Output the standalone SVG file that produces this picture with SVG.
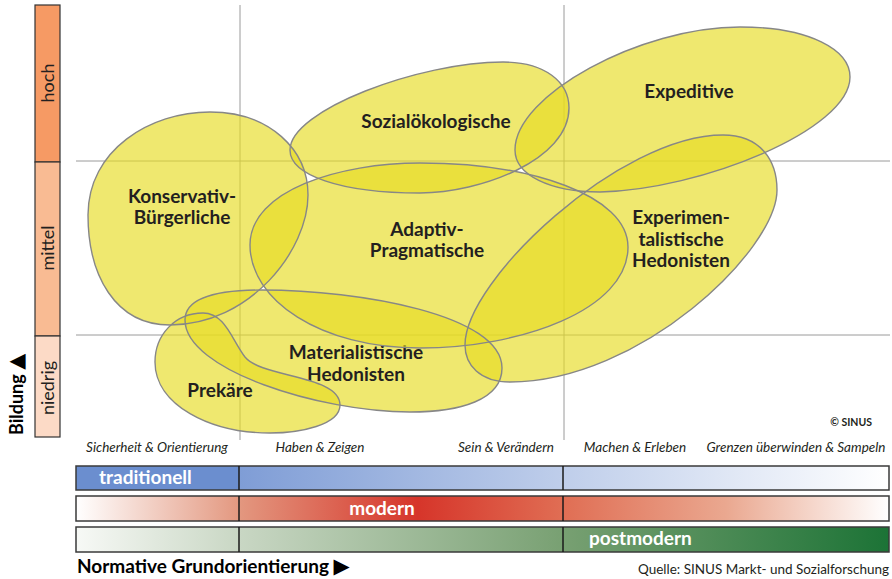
<svg xmlns="http://www.w3.org/2000/svg" xmlns:xlink="http://www.w3.org/1999/xlink" width="892" height="579" viewBox="0 0 892 579">
<style>
.blob{fill:#e6dc22;fill-opacity:0.65;stroke:none}
.outline{fill:none;stroke:#878787;stroke-width:1.4}
.grid{stroke:#9a9a9a;stroke-width:1;fill:none}
.lbl{font-family:Lato,"Liberation Sans",sans-serif;font-weight:bold;font-size:19px;fill:#231f20;text-anchor:middle}
.ax{font-family:Lato,"Liberation Sans",sans-serif;font-style:italic;font-size:13.5px;fill:#231f20;text-anchor:middle}
.lvl{font-family:Lato,"Liberation Sans",sans-serif;font-size:18px;fill:#231f20;text-anchor:middle}
.bar{stroke:#3a3a3a;stroke-width:1.5}
.div{stroke:#1a1a1a;stroke-width:1.5}
.bt{font-family:Lato,"Liberation Sans",sans-serif;font-weight:bold;font-size:19px;fill:#ffffff}
</style>
<defs>
<path id="s-kons" d="M 210,112 C 270,112 308,150 308,195 C 308,250 250,325 170,325 C 115,325 88,275 88,215 C 88,150 150,112 210,112 Z"/>
<path id="s-sozial" d="M 290,150 C 290,110 420,62 503,62 C 545,62 569,82 569,108 C 569,160 480,193 420,193 C 340,193 290,175 290,150 Z"/>
<path id="s-exped" d="M 515,150 C 515,95 640,27 740,27 C 810,27 850,50 850,77 C 850,130 700,190 600,192 C 550,192 515,175 515,150 Z"/>
<path id="s-adapt" d="M 250,245 C 250,190 340,163 420,163 C 530,163 628,195 628,247 C 628,310 520,348 420,348 C 320,348 250,300 250,245 Z"/>
<path id="s-exper" d="M 723,135 C 760,135 777,160 777,190 C 777,250 640,382 510,382 C 480,382 465,365 465,345 C 465,280 620,135 723,135 Z"/>
<path id="s-mat" d="M 185,320 C 185,300 210,290 262,290 C 360,290 502,315 502,368 C 502,400 460,412 410,412 C 320,412 185,370 185,320 Z"/>
<path id="s-prek" d="M 155,362 C 155,335 175,313 203,313 C 225,313 232,340 245,357 C 262,378 340,375 340,405 C 340,425 300,433 270,433 C 210,433 155,405 155,362 Z"/>
<linearGradient id="g-trad" x1="239" y1="0" x2="889" y2="0" gradientUnits="userSpaceOnUse">
<stop offset="0" stop-color="#7f9dd6"/><stop offset="1" stop-color="#ffffff"/>
</linearGradient>
<linearGradient id="g-mod" x1="76" y1="0" x2="889" y2="0" gradientUnits="userSpaceOnUse">
<stop offset="0" stop-color="#ffffff"/><stop offset="0.2" stop-color="#e39880"/><stop offset="0.42" stop-color="#d6352a"/><stop offset="0.6" stop-color="#e06e54"/><stop offset="0.8" stop-color="#eaa890"/><stop offset="1" stop-color="#ffffff"/>
</linearGradient>
<linearGradient id="g-post" x1="76" y1="0" x2="889" y2="0" gradientUnits="userSpaceOnUse">
<stop offset="0" stop-color="#f7f9f6"/><stop offset="0.2" stop-color="#c9d7c4"/><stop offset="0.6" stop-color="#78a072"/><stop offset="1" stop-color="#1c7336"/>
</linearGradient>
</defs>
<rect x="0" y="0" width="892" height="579" fill="#ffffff"/>

<g id="grid">
<line class="grid" x1="240" y1="5" x2="240" y2="440"/>
<line class="grid" x1="564" y1="5" x2="564" y2="440"/>
<line class="grid" x1="76" y1="161" x2="890" y2="161"/>
<line class="grid" x1="76" y1="335" x2="890" y2="335"/>
</g>

<g id="bildung-axis">
<rect x="35" y="5" width="25" height="157" fill="#f69a64" stroke="#333" stroke-width="1.2"/>
<rect x="35" y="162" width="25" height="174" fill="#f9bb93" stroke="#333" stroke-width="1.2"/>
<rect x="35" y="336" width="25" height="101" fill="#fcdac6" stroke="#333" stroke-width="1.2"/>
<text class="lvl" transform="translate(54,83) rotate(-90)">hoch</text>
<text class="lvl" transform="translate(54,248) rotate(-90)">mittel</text>
<text class="lvl" transform="translate(54,388) rotate(-90)">niedrig</text>
<text transform="translate(23,435) rotate(-90)" font-family="Lato,'Liberation Sans',sans-serif" font-weight="bold" font-size="18" fill="#000">Bildung <tspan font-family="'DejaVu Sans',sans-serif" font-size="21">▲</tspan></text>
</g>

<g id="prekaere">
<use xlink:href="#s-prek" class="blob"/>
<text class="lbl" x="220" y="397">Prekäre</text>
</g>
<g id="materialistische-hedonisten">
<use xlink:href="#s-mat" class="blob"/>
<text class="lbl" x="356" y="359">Materialistische</text>
<text class="lbl" x="356" y="381">Hedonisten</text>
</g>
<g id="konservativ-buergerliche">
<use xlink:href="#s-kons" class="blob"/>
<text class="lbl" x="182" y="203">Konservativ-</text>
<text class="lbl" x="182" y="224">Bürgerliche</text>
</g>
<g id="adaptiv-pragmatische">
<use xlink:href="#s-adapt" class="blob"/>
<text class="lbl" x="427" y="236">Adaptiv-</text>
<text class="lbl" x="427" y="257">Pragmatische</text>
</g>
<g id="sozialoekologische">
<use xlink:href="#s-sozial" class="blob"/>
<text class="lbl" x="436" y="128">Sozialökologische</text>
</g>
<g id="experimentalistische-hedonisten">
<use xlink:href="#s-exper" class="blob"/>
<text class="lbl" x="681" y="224">Experimen-</text>
<text class="lbl" x="681" y="246">talistische</text>
<text class="lbl" x="681" y="267">Hedonisten</text>
</g>
<g id="expeditive">
<use xlink:href="#s-exped" class="blob"/>
<text class="lbl" x="689" y="98">Expeditive</text>
</g>

<g id="outlines">
<use xlink:href="#s-prek" class="outline"/>
<use xlink:href="#s-mat" class="outline"/>
<use xlink:href="#s-kons" class="outline"/>
<use xlink:href="#s-adapt" class="outline"/>
<use xlink:href="#s-sozial" class="outline"/>
<use xlink:href="#s-exper" class="outline"/>
<use xlink:href="#s-exped" class="outline"/>
</g>

<text x="872" y="426" font-family="Lato,'Liberation Sans',sans-serif" font-weight="bold" font-size="10.5" fill="#231f20" text-anchor="end">© SINUS</text>

<g id="werte-labels">
<text class="ax" x="157" y="452">Sicherheit &amp; Orientierung</text>
<text class="ax" x="320" y="452">Haben &amp; Zeigen</text>
<text class="ax" x="506" y="452">Sein &amp; Verändern</text>
<text class="ax" x="635" y="452">Machen &amp; Erleben</text>
<text class="ax" x="796" y="452">Grenzen überwinden &amp; Sampeln</text>
</g>

<g id="bar-traditionell">
<rect x="76" y="466" width="163" height="24" fill="#6b8ecf"/>
<rect x="239" y="466" width="650" height="24" fill="url(#g-trad)"/>
<rect class="bar" x="76" y="466" width="813" height="24" fill="none"/>
<line class="div" x1="239" y1="466" x2="239" y2="490"/>
<line class="div" x1="563" y1="466" x2="563" y2="490"/>
<text class="bt" x="99" y="484">traditionell</text>
</g>
<g id="bar-modern">
<rect class="bar" x="76" y="496" width="813" height="25" fill="url(#g-mod)"/>
<line class="div" x1="239" y1="496" x2="239" y2="521"/>
<line class="div" x1="563" y1="496" x2="563" y2="521"/>
<text class="bt" x="382" y="515" text-anchor="middle">modern</text>
</g>
<g id="bar-postmodern">
<rect class="bar" x="76" y="527" width="813" height="25" fill="url(#g-post)"/>
<line class="div" x1="239" y1="527" x2="239" y2="552"/>
<line class="div" x1="563" y1="527" x2="563" y2="552"/>
<text class="bt" x="589" y="545">postmodern</text>
</g>

<text x="77" y="573" font-family="Lato,'Liberation Sans',sans-serif" font-weight="bold" font-size="19" fill="#000">Normative Grundorientierung <tspan font-family="'DejaVu Sans',sans-serif" font-size="21">▶</tspan></text>
<text x="889" y="574" font-family="Lato,'Liberation Sans',sans-serif" font-size="13.5" fill="#231f20" text-anchor="end">Quelle: SINUS Markt- und Sozialforschung</text>
</svg>
